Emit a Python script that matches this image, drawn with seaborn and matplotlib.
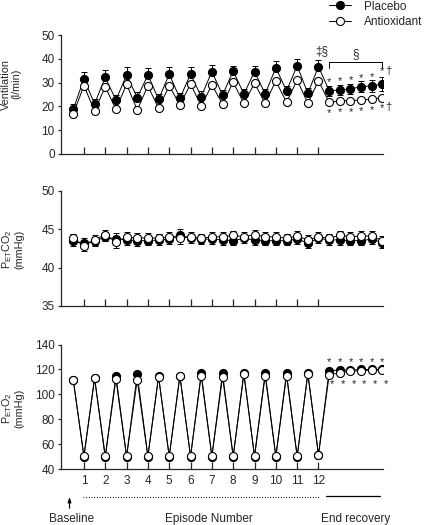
import numpy as np
import pandas as pd
import seaborn as sns
import matplotlib.pyplot as plt
from matplotlib.lines import Line2D

# time points: baseline, then hypoxia (H) / normoxia (N) alternating, then end recovery (R)
phases = (["Baseline"]
          + ["H1", "N1", "H2", "N2", "H3", "N3", "H4", "N4", "H5", "N5", "H6", "N6",
             "H7", "N7", "H8", "N8", "H9", "N9", "H10", "N10", "H11", "N11", "H12"]
          + ["R1", "R2", "R3", "R4", "R5", "R6"])
episode_labels = ["1", "2", "3", "4", "5", "6", "7", "8", "9", "10", "11", "12"]
episode_phases = ["H1", "H2", "H3", "H4", "H5", "H6", "H7", "H8", "H9", "H10", "H11", "H12"]
recovery_phases = ["R1", "R2", "R3", "R4", "R5", "R6"]

vent_placebo = [18.8, 31.5, 21.1, 32.2, 22.7, 33.2, 23.7, 33.2, 23.0, 33.5, 23.4, 33.6, 24.1, 34.6, 24.8,
                34.9, 25.2, 34.6, 25.3, 36.3, 26.5, 37.1, 25.5, 36.7, 26.6, 26.9, 27.3, 28.3, 28.6, 29.4]
vent_placebo_up = [2.0, 3.1, 2.0, 3.2, 2.2, 3.2, 2.2, 3.0, 2.2, 3.0, 2.2, 3.0, 2.2, 3.0, 2.2,
                   2.2, 2.2, 2.5, 2.2, 2.9, 2.2, 2.8, 2.2, 2.8, 2.1, 2.2, 2.2, 2.4, 2.6, 3.0]
vent_placebo_down = [0, 0, 0, 0, 0, 0, 0, 0, 0, 0, 0, 0, 0, 0, 0,
                     0, 0, 0, 0, 0, 0, 0, 0, 0, 2.1, 2.2, 2.2, 2.4, 2.6, 3.0]
vent_antiox = [16.8, 28.7, 18.1, 28.2, 18.8, 29.3, 18.5, 28.6, 19.2, 28.6, 20.6, 29.4, 20.2, 29.0, 21.0,
               30.2, 21.3, 29.7, 21.3, 30.7, 21.7, 31.1, 21.3, 30.8, 21.7, 22.3, 22.4, 22.7, 23.0, 23.7]

co2_placebo = [43.4, 43.2, 43.4, 44.0, 43.7, 43.6, 43.5, 43.5, 43.6, 43.7, 44.3, 43.8, 43.7, 43.7, 43.6,
               43.5, 43.8, 43.6, 43.5, 43.5, 43.5, 43.7, 43.2, 43.8, 43.6, 43.6, 43.5, 43.5, 43.7, 43.2]
co2_antiox = [43.8, 42.8, 43.6, 44.3, 43.3, 44.0, 43.8, 43.9, 43.8, 44.0, 43.8, 44.0, 43.8, 44.0, 44.0,
              44.2, 44.0, 44.3, 44.0, 44.0, 43.8, 44.1, 43.6, 44.0, 43.8, 44.2, 44.0, 44.1, 44.1, 43.5]
co2_sem = [0.6, 0.7, 0.6, 0.6, 0.8, 0.6, 0.7, 0.6, 0.6, 0.6, 0.7, 0.6, 0.6, 0.6, 0.6,
           0.6, 0.6, 0.6, 0.6, 0.6, 0.6, 0.6, 0.7, 0.6, 0.6, 0.6, 0.6, 0.6, 0.6, 0.6]

o2_placebo = [111.6, 50.2, 113.0, 49.6, 115.1, 50.2, 116.2, 50.2, 114.5, 50.2, 115.0, 50.2, 117.0, 50.2, 117.0,
              50.2, 116.8, 50.2, 117.2, 50.2, 117.2, 50.2, 116.8, 51.5, 119.0, 119.5, 119.5, 120.0, 120.0, 120.0]
o2_antiox = [111.6, 50.6, 113.0, 50.4, 112.2, 50.4, 111.6, 50.4, 114.3, 50.4, 114.8, 50.4, 115.1, 50.4, 114.0,
             50.4, 116.6, 50.4, 115.0, 50.4, 115.0, 50.4, 116.6, 51.7, 115.5, 117.5, 118.5, 119.0, 119.5, 119.5]

df = pd.DataFrame({"phase": phases, "vent_p": vent_placebo, "vent_a": vent_antiox,
                   "co2_p": co2_placebo, "co2_a": co2_antiox, "o2_p": o2_placebo, "o2_a": o2_antiox})
df["x"] = np.arange(len(df))
pos = dict(zip(df["phase"], df["x"]))
ep_x = [pos[p] for p in episode_phases]
rec_x = [pos[p] for p in recovery_phases]

sns.set_style("ticks")
plt.rcParams["font.family"] = ["Liberation Sans", "DejaVu Sans"]
plt.rcParams["font.size"] = 8.5
plt.rcParams["mathtext.fontset"] = "custom"
plt.rcParams["mathtext.rm"] = "Liberation Sans"
plt.rcParams["mathtext.it"] = "Liberation Sans"

W, H = 424, 525
fig = plt.figure(figsize=(W / 100, H / 100), dpi=100)


def box(top, bottom, left=61, right=383):
    return [left / W, 1 - bottom / H, (right - left) / W, (bottom - top) / H]


ax1 = fig.add_axes(box(35, 154))
ax2 = fig.add_axes(box(190.7, 306))
ax3 = fig.add_axes(box(344.5, 469.3))

LW = 0.7
MS = 5.8


def draw(ax, col, face, err=None):
    if err is not None:
        ax.errorbar(df["x"], df[col], yerr=err, fmt="none", ecolor="black",
                    elinewidth=LW, capsize=2.5, capthick=LW, zorder=2)
    sns.lineplot(data=df, x="x", y=col, ax=ax, color="black", lw=LW, marker="o",
                 markersize=MS, markerfacecolor=face, markeredgecolor="black",
                 markeredgewidth=0.8, sort=False, zorder=3)


draw(ax1, "vent_p", "black", [vent_placebo_down, vent_placebo_up])
draw(ax1, "vent_a", "white")
draw(ax2, "co2_p", "black", co2_sem)
draw(ax2, "co2_a", "white", co2_sem)
draw(ax3, "o2_p", "black")
draw(ax3, "o2_a", "white")

for ax, (lo, hi), ticks in [(ax1, (0, 50), [0, 10, 20, 30, 40, 50]),
                            (ax2, (35, 50), [35, 40, 45, 50]),
                            (ax3, (40, 140), [40, 60, 80, 100, 120, 140])]:
    ax.set_xlim(-1.15, 29.05)
    ax.set_ylim(lo, hi)
    ax.set_yticks(ticks)
    ax.set_xticks(ep_x)
    ax.set_xticklabels([])
    ax.set_xlabel("")
    ax.set_ylabel("")
    sns.despine(ax=ax)
    for s in ["left", "bottom"]:
        ax.spines[s].set_linewidth(0.9)
    ax.tick_params(axis="x", direction="in", length=5, width=0.9, pad=4)
    ax.tick_params(axis="y", direction="out", length=2.5, width=0.9, pad=2)
    for sp in ax.spines.values():
        sp.set_clip_on(False)

ax3.set_xticklabels(episode_labels)

# y labels
ylab = dict(rotation=90, ha="center", va="center", multialignment="center", linespacing=1.0, fontsize=7.8)
fig.text(11 / W, 1 - 84 / H, "Ventilation\n(l/min)", **ylab)
fig.text(12 / W, 1 - 249 / H, "P$_{\\mathregular{ET}}$CO$_2$\n(mmHg)", **ylab)
fig.text(12 / W, 1 - 408 / H, "P$_{\\mathregular{ET}}$O$_2$\n(mmHg)", **ylab)

# significance marks, ventilation
for i, xi in enumerate(rec_x):
    vp = df.loc[xi, "vent_p"]
    va_ = df.loc[xi, "vent_a"]
    if i < len(rec_x) - 1:
        ax1.text(xi, vp + 3.6, "*", ha="center", va="center", fontsize=8)
        ax1.text(xi, va_ - 4.6, "*", ha="center", va="center", fontsize=8)
    else:
        ax1.text(xi, vp + 5.4, "*", ha="center", va="center", fontsize=8)
        ax1.text(xi + 0.3, vp + 5.6, "\u2020", ha="left", va="center", fontsize=8)
        ax1.text(xi, va_ - 4.4, "*", ha="center", va="center", fontsize=8)
        ax1.text(xi + 0.3, va_ - 3.8, "\u2020", ha="left", va="center", fontsize=8)

ax1.text(pos["H12"] + 0.3, 43.3, "\u2021\u00a7", ha="center", va="center", fontsize=8.5)
ax1.plot([rec_x[0], rec_x[0], rec_x[-1], rec_x[-1]], [36.1, 38.5, 38.5, 36.1],
         color="black", lw=LW, clip_on=False)
ax1.text((rec_x[0] + rec_x[-1]) / 2, 41.8, "\u00a7", ha="center", va="center", fontsize=8.5)

# significance marks, PETO2
for xi in rec_x:
    ax3.text(xi, 126.0, "*", ha="center", va="center", fontsize=8)
    ax3.text(xi + 0.3, 108.6, "*", ha="center", va="center", fontsize=8)

# legend
handles = [Line2D([], [], color="black", lw=LW, marker="o", ms=MS, mfc=c, mec="black", mew=0.8)
           for c in ["black", "white"]]
fig.legend(handles, ["Placebo", "Antioxidant"], loc="upper left", bbox_to_anchor=(329 / W, 0.999),
           frameon=False, borderpad=0, borderaxespad=0, handlelength=1.9, handletextpad=1.1,
           labelspacing=0.3, fontsize=8.5)

# bottom annotation
trans = ax3.get_xaxis_transform()
ax3.plot([0.9, 23.15], [-0.22, -0.22], transform=trans, color="black", lw=0.8,
         ls=(0, (0.8, 1.6)), clip_on=False)
ax3.plot([23.7, 28.8], [-0.215, -0.215], transform=trans, color="black", lw=0.9, clip_on=False)
ax3.annotate("", xy=(-0.35, -0.2), xytext=(-0.35, -0.335), xycoords=trans, textcoords=trans,
             arrowprops=dict(arrowstyle="-|>,head_length=0.35,head_width=0.12", color="black", lw=0.8))
ax3.text(-0.13, -0.4, "Baseline", transform=trans, ha="center", va="center")
ax3.text(12.75, -0.4, "Episode Number", transform=trans, ha="center", va="center")
ax3.text(26.5, -0.4, "End recovery", transform=trans, ha="center", va="center")

fig.savefig("out.png", dpi=100)
